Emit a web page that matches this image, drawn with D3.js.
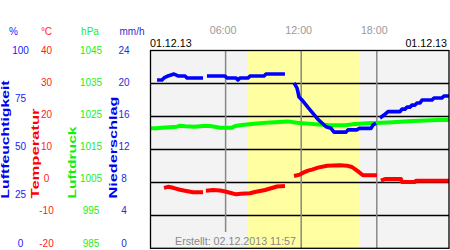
<!DOCTYPE html>
<html><head><meta charset="utf-8">
<script src="https://cdn.jsdelivr.net/npm/d3@7"></script>
<style>body{margin:0;background:#fff}svg{display:block;font-family:"Liberation Sans",Arial,sans-serif}</style>
</head><body><svg id="c" width="450" height="250"></svg>
<script>
// ---- data ----
const timeTickHours = [6, 12, 18];
const timeTickLabels = ["06:00", "12:00", "18:00"];
const dateLabel = "01.12.13";
const createdLabel = "Erstellt: 02.12.2013 11:57";
const daylight = [7.77, 16.58];

const humTicks = [100, 75, 50, 25, 0];
const tempTicks = [40, 30, 20, 10, 0, -10, -20];
const presTicks = [1045, 1035, 1025, 1015, 1005, 995, 985];
const rainTicks = [24, 20, 16, 12, 8, 4, 0];
const axisUnits = ["%", "°C", "hPa", "mm/h"];
const axisTitles = ["Luftfeuchtigkeit", "Temperatur", "Luftdruck", "Niederschlag"];

const humT = [0.56,0.95,1.11,1.43,1.9,2.22,2.78,2.94,4.21,4.37,4.52,5.95,6.11,6.83,6.98,7.14,7.78,7.94,9.05,9.21,10.71,11.0,11.43,11.67,11.83,12.06,12.38,12.7,13.02,13.33,13.65,13.97,14.37,14.6,15.56,15.71,16.43,16.59,17.54,17.7,17.94,18.1,18.25,18.57,18.89,19.84,20.0,20.24,20.4,20.63,20.79,21.03,21.19,21.43,21.59,22.38,22.54,23.17,23.33,23.8];
const humV = [84.9,84.9,85.9,86.9,87.9,86.9,86.9,85.9,85.9,null,86.9,86.9,85.9,85.9,84.9,85.9,85.9,86.9,86.9,87.9,87.9,null,83.4,80.8,76.3,74.8,72.3,69.8,67.4,65.0,63.2,61.3,60.5,58.6,58.6,59.7,59.7,60.5,60.5,62.2,63.0,null,65.7,67.2,68.9,68.9,70.2,70.2,71.2,71.2,72.2,72.2,73.3,73.3,74.8,74.8,75.8,75.8,76.8,76.8];

const tempT = [1.11,1.43,1.75,1.98,2.38,2.78,3.1,3.41,4.21,4.3,4.44,5.0,5.56,5.87,6.35,6.83,7.22,7.94,8.33,9.13,9.68,10.08,10.71,11.0,11.43,11.9,12.22,12.54,12.86,13.33,14.05,15.08,15.63,16.03,16.35,16.67,16.9,18.02,18.2,18.33,18.65,19.92,20.0,21.03,21.11,23.8];
const tempV = [-1.7,-1.4,-1.6,-1.85,-2.27,-2.6,-2.8,-3.06,-3.06,null,-2.58,-2.36,-2.5,-2.76,-3.18,-3.67,-3.5,-3.36,-2.97,-2.36,-1.76,-1.3,-1.15,null,1.87,2.3,3.0,3.5,3.8,4.4,5.0,5.11,5.0,4.6,3.7,2.8,2.08,2.08,null,0.45,0.96,0.96,0.06,0.06,0.45,0.45];

const presT = [0,0.48,0.95,2.14,2.38,2.78,3.57,4.37,4.92,5.56,6.5,6.75,7.3,8.25,9.52,10.95,11.67,12.3,13.17,14.29,15.48,16.03,17.3,18.89,20.87,22.86,23.8];
const presV = [1021.3,1021.3,1021.5,1021.8,1022.1,1021.9,1021.8,1022.1,1021.9,1021.5,1021.5,1022.0,1022.3,1022.7,1023.1,1023.4,1023.0,1022.8,1022.5,1022.2,1022.2,1022.5,1022.8,1023.1,1023.5,1023.8,1023.8];

// ---- layout ----
const L = 150, R = 449, T = 50, B = 248.3;
const svg = d3.select("#c");
const x = d3.scaleLinear([0, 24], [L, 452.4]);
const yHum = d3.scaleLinear([0, 100], [B, T]);
const yTemp = d3.scaleLinear([-20, 40], [B, T]);
const yPres = d3.scaleLinear([985, 1045], [B, T]);
const yRain = d3.scaleLinear([0, 24], [B, T]);
// label positions (labels sit slightly above their grid lines)
const labT = d3.scaleLinear([-20, 40], [243, 50]);
const labH = d3.scaleLinear([0, 100], [243, 50]);
const labP = d3.scaleLinear([985, 1045], [243, 50]);
const labR = d3.scaleLinear([0, 24], [243, 50]);

svg.append("defs").append("clipPath").attr("id", "clip")
  .append("rect").attr("x", L).attr("y", T).attr("width", R - L).attr("height", B - T);

const plot = svg.append("g").attr("clip-path", "url(#clip)");
plot.append("rect").attr("x", L).attr("y", T).attr("width", R - L).attr("height", B - T).attr("fill", "#f3f3f3");
plot.append("rect").attr("x", x(daylight[0])).attr("y", T)
  .attr("width", x(daylight[1]) - x(daylight[0])).attr("height", B - T).attr("fill", "#ffffa2");

// horizontal grid
plot.selectAll("line.h").data(tempTicks.slice(1, -1)).join("line")
  .attr("x1", L).attr("x2", R)
  .attr("y1", d => Math.round(yTemp(d)) + 0.5).attr("y2", d => Math.round(yTemp(d)) + 0.5)
  .attr("stroke", "#000").attr("stroke-width", 1.3);

// vertical grid
plot.selectAll("line.v").data(timeTickHours).join("line")
  .attr("x1", d => x(d)).attr("x2", d => x(d))
  .attr("y1", T).attr("y2", (d, i) => i === 0 ? 232 : B)
  .attr("stroke", "#888").attr("stroke-width", 1.5);

function series(t, v, y, color, w) {
  const data = t.map((tt, i) => [tt, v[i]]);
  plot.append("path").datum(data)
    .attr("d", d3.line().defined(d => d[1] !== null).x(d => x(d[0])).y(d => y(d[1])))
    .attr("fill", "none").attr("stroke", color).attr("stroke-width", w)
    .attr("stroke-linejoin", "round");
}
series(tempT, tempV, yTemp, "#ff0000", 4);
series(presT, presV, yPres, "#00ff00", 4);
series(humT, humV, yHum, "#0000ff", 3.6);

// border
svg.append("rect").attr("x", L + 0.5).attr("y", T + 0.5).attr("width", R - L - 0.5).attr("height", B - T - 0.5)
  .attr("fill", "none").attr("stroke", "#000").attr("stroke-width", 1.3);

// created label
svg.append("text").attr("x", 175).attr("y", 244.5).attr("font-size", 10.7).attr("fill", "#888")
  .text(createdLabel);

// time labels
svg.selectAll("text.tt").data(timeTickHours).join("text")
  .attr("x", d => x(d) - 2.5).attr("y", 34).attr("text-anchor", "middle")
  .attr("font-size", 10.7).attr("fill", "#999").text((d, i) => timeTickLabels[i]);

svg.append("text").attr("x", 150).attr("y", 47).attr("font-size", 10.7).attr("fill", "#000").text(dateLabel);
svg.append("text").attr("x", 447).attr("y", 47).attr("text-anchor", "end").attr("font-size", 10.7).attr("fill", "#000").text(dateLabel);

// axis units
const unitX = [13.5, 46.5, 90, 132];
const unitCol = ["#2020ff", "#ff2020", "#22ee22", "#3030d0"];
svg.selectAll("text.u").data(axisUnits).join("text")
  .attr("x", (d, i) => unitX[i]).attr("y", 34.5).attr("text-anchor", "middle")
  .attr("font-size", 10).attr("fill", (d, i) => unitCol[i]).text(d => d);

// tick labels
function ticks(arr, ys, cx, col) {
  svg.append("g").selectAll("text").data(arr).join("text")
    .attr("x", cx).attr("y", d => ys(d) + 3.6).attr("text-anchor", "middle")
    .attr("font-size", 10).attr("fill", col).text(d => d);
}
ticks(humTicks, labH, 20.5, "#2020ff");
ticks(tempTicks, labT, 46.5, "#ff1a1a");
ticks(presTicks, labP, 91, "#22ee22");
ticks(rainTicks, labR, 124, "#2a2ad8");

// rotated titles
const titleX = [9, 39, 76, 117];
const titleLen = [118, 90, 72, 102];
const titleCol = ["#0000ee", "#ff0000", "#11ee11", "#0000ee"];
axisTitles.forEach((t, i) => {
  svg.append("text")
    .attr("transform", `translate(${titleX[i]},198.5) rotate(-90)`)
    .attr("font-size", 10).attr("font-weight", "bold").attr("fill", titleCol[i])
    .attr("textLength", titleLen[i]).attr("lengthAdjust", "spacingAndGlyphs")
    .text(t);
});
</script></body></html>
